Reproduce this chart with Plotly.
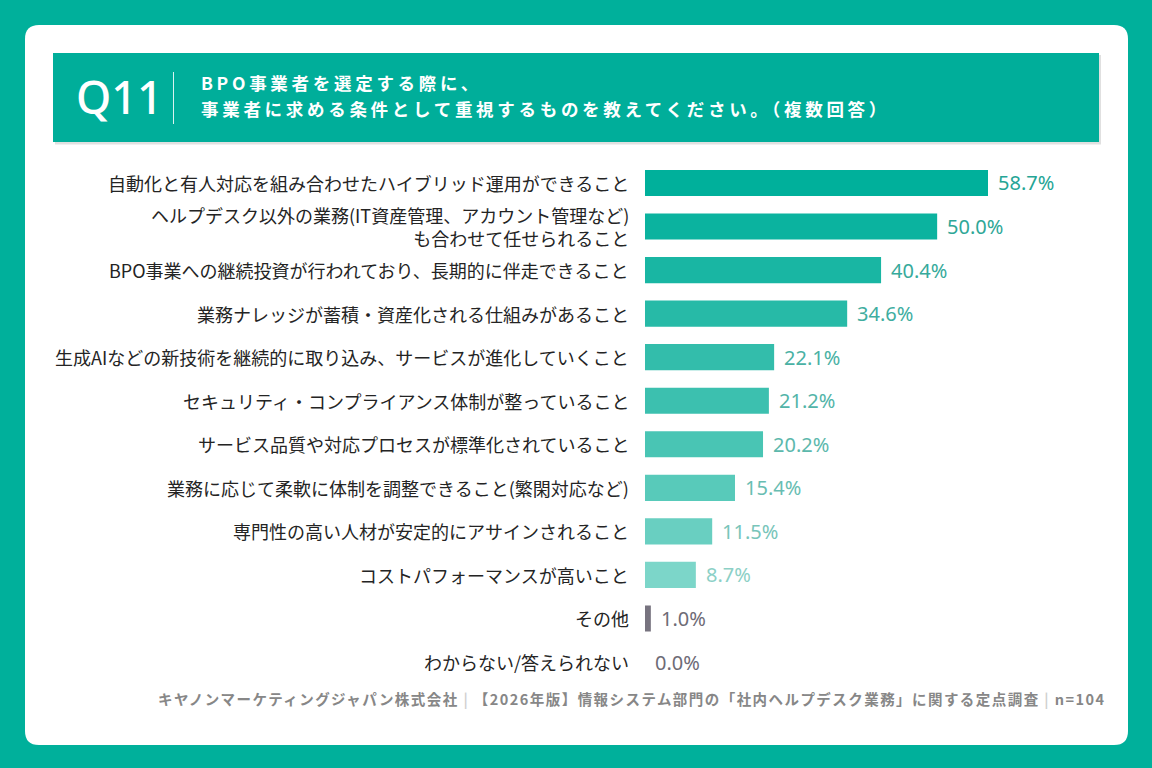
import plotly.graph_objects as go

categories = [
    "自動化と有人対応を組み合わせたハイブリッド運用ができること",
    "ヘルプデスク以外の業務(IT資産管理、アカウント管理など)<br>も合わせて任せられること",
    "BPO事業への継続投資が行われており、長期的に伴走できること",
    "業務ナレッジが蓄積・資産化される仕組みがあること",
    "生成AIなどの新技術を継続的に取り込み、サービスが進化していくこと",
    "セキュリティ・コンプライアンス体制が整っていること",
    "サービス品質や対応プロセスが標準化されていること",
    "業務に応じて柔軟に体制を調整できること(繁閑対応など)",
    "専門性の高い人材が安定的にアサインされること",
    "コストパフォーマンスが高いこと",
    "その他",
    "わからない/答えられない",
]
values = [58.7, 50.0, 40.4, 34.6, 22.1, 21.2, 20.2, 15.4, 11.5, 8.7, 1.0, 0.0]
value_labels = ["58.7%", "50.0%", "40.4%", "34.6%", "22.1%", "21.2%", "20.2%",
                "15.4%", "11.5%", "8.7%", "1.0%", "0.0%"]
bar_colors = ["#00B09B", "#0BB39F", "#19B6A3", "#27BAA7", "#33BDAB", "#3CC0AF",
              "#49C5B4", "#58CABA", "#69CFC1", "#7CD6C9", "#77737F", "#77737F"]
text_colors = ["#25A596", "#2EA797", "#36AA9B", "#40AD9F", "#4AB1A4", "#52B4A8",
               "#5CB8AC", "#68BDB2", "#78C5BA", "#8CD0C6", "#6E6B76", "#6E6B76"]

title_line1 = "BPO事業者を選定する際に、"
title_line2 = "事業者に求める条件として重視するものを教えてください。（複数回答）"
q_label = "Q11"
footer_plain = ("キヤノンマーケティングジャパン株式会社 | "
                "【2026年版】情報システム部門の「社内ヘルプデスク業務」に関する定点調査 | n=104")
footer = footer_plain.replace("|", "<span style='color:#d0d0d0'>|</span>")

W, H = 1152, 768
FONT = "Noto Sans CJK JP"
TEAL = "#00B09B"


def px(x):
    return x / W


def py(y):
    return 1 - y / H


def rounded_rect(x0, y0, x1, y1, r):
    rx, ry = r / W, r / H
    X0, X1 = px(x0), px(x1)
    Y0, Y1 = py(y0), py(y1)
    return (f"M {X0+rx},{Y0} L {X1-rx},{Y0} Q {X1},{Y0} {X1},{Y0-ry} "
            f"L {X1},{Y1+ry} Q {X1},{Y1} {X1-rx},{Y1} "
            f"L {X0+rx},{Y1} Q {X0},{Y1} {X0},{Y1+ry} "
            f"L {X0},{Y0-ry} Q {X0},{Y0} {X0+rx},{Y0} Z")


x0_pix = 645
px_per_unit = (988 - 645) / 58.7
xmax = (W - x0_pix) / px_per_unit
n = len(categories)
top_edge = 161.2
bottom_edge = 683.8

fig = go.Figure()
fig.add_trace(go.Bar(
    x=values, y=categories, orientation="h",
    marker=dict(color=bar_colors, line=dict(width=0)),
    width=0.6, hoverinfo="skip",
))

shapes = [
    dict(type="path", xref="paper", yref="paper", path=rounded_rect(25, 25, 1128, 745, 14),
         fillcolor="white", line=dict(width=0), layer="below"),
    dict(type="rect", xref="paper", yref="paper", x0=px(55), x1=px(1101), y0=py(55), y1=py(144.5),
         fillcolor="rgba(0,0,0,0.12)", line=dict(width=0), layer="below"),
    dict(type="rect", xref="paper", yref="paper", x0=px(53), x1=px(1099), y0=py(53), y1=py(142),
         fillcolor="#00AE9A", line=dict(width=0), layer="below"),
    dict(type="line", xref="paper", yref="paper", x0=px(173.5), x1=px(173.5), y0=py(72), y1=py(124),
         line=dict(color="rgba(255,255,255,0.85)", width=1)),
]

annotations = [
    dict(text=q_label, x=px(74), y=py(96), xref="paper", yref="paper", xanchor="left",
         yanchor="middle", showarrow=False,
         font=dict(family="Noto Sans", size=45, color="white", weight=500)),
    dict(text=title_line1, x=px(199), y=py(82), xref="paper", yref="paper", xanchor="left",
         yanchor="middle", align="left", showarrow=False,
         font=dict(family=FONT, size=17.5, color="white", weight="bold")),
    dict(text=title_line2, x=px(199), y=py(108.5), xref="paper", yref="paper", xanchor="left",
         yanchor="middle", align="left", showarrow=False,
         font=dict(family=FONT, size=17.5, color="white", weight="bold")),
    dict(text=footer, x=px(156), y=py(698), xref="paper", yref="paper", xanchor="left",
         yanchor="middle", align="left", showarrow=False,
         font=dict(family=FONT, size=14.5, color="#878787", weight="bold")),
]

for cat, val, lab, tc in zip(categories, values, value_labels, text_colors):
    annotations.append(dict(
        text=cat, x=px(631), y=cat, xref="paper", yref="y", xanchor="right", yanchor="middle",
        align="right", showarrow=False,
        font=dict(family=FONT, size=18, color="#242424", weight="normal"),
    ))
    annotations.append(dict(
        text=lab, x=val, y=cat, xref="x", yref="y", xanchor="left", yanchor="middle",
        xshift=8, showarrow=False,
        font=dict(family="Noto Sans", size=20, color=tc),
    ))

fig.update_layout(
    width=W, height=H,
    margin=dict(l=0, r=0, t=0, b=0),
    paper_bgcolor=TEAL, plot_bgcolor="rgba(0,0,0,0)",
    showlegend=False,
    bargap=0.4,
    xaxis=dict(domain=[px(x0_pix), 1.0], range=[0, xmax], visible=False, fixedrange=True),
    yaxis=dict(domain=[py(bottom_edge), py(top_edge)], categoryorder="array",
               categoryarray=categories, range=[n - 0.5, -0.5], visible=False, fixedrange=True),
    shapes=shapes,
    annotations=annotations,
)

# widen the tracked (letter-spaced) header and footer texts to the reference widths
post_js = """
var gd = document.querySelector('.plotly-graph-div');
function txt(i){ return gd.querySelector('.annotation[data-index="' + i + '"] text.annotation-text'); }
function spread(i, target, n){
  var t = txt(i); if(!t) return 0;
  var w = t.getBBox().width;
  var ls = (target - w) / n; if (ls < 0) ls = 0;
  t.style.letterSpacing = ls + 'px'; return ls;
}
var ls = spread(2, 689, NTITLE);
var t1 = txt(1); if (t1) t1.style.letterSpacing = ls + 'px';
spread(3, 948, NFOOT);
""".replace("NTITLE", str(len(title_line2))).replace("NFOOT", str(len(footer_plain)))

fig.write_html("out.html", post_script=post_js)
